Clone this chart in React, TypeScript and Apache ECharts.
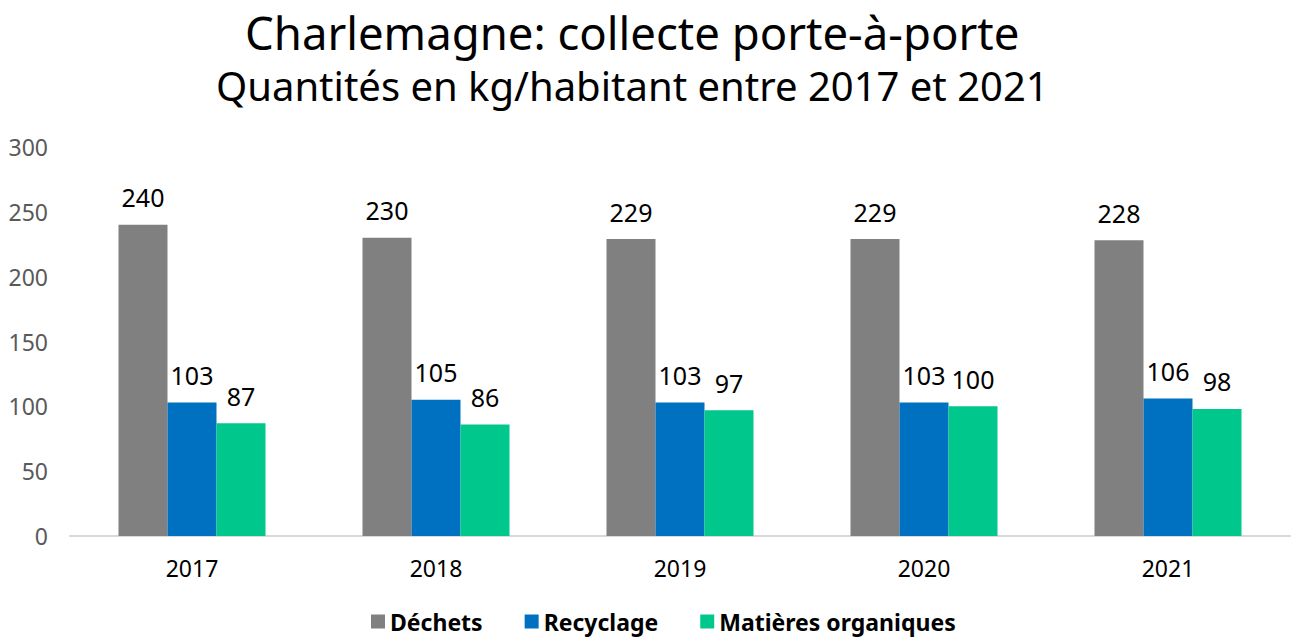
import React, { useEffect, useRef } from "react";
import * as echarts from "echarts";

const years = ["2017", "2018", "2019", "2020", "2021"];
const dechets = [240, 230, 229, 229, 228];
const recyclage = [103, 105, 103, 103, 106];
const organiques = [87, 86, 97, 100, 98];
const seriesNames = ["Déchets", "Recyclage", "Matières organiques"];
const colors = ["#808080", "#0070C0", "#00C78C"];

export default function App() {
  const ref = useRef<HTMLDivElement>(null);
  useEffect(() => {
    if (!ref.current) return;
    const chart = echarts.init(ref.current, null, { renderer: "svg" });
    const font = "'Noto Sans', sans-serif";
    const label = {
      show: true,
      position: "top",
      distance: 15,
      color: "#000",
      fontSize: 25,
      fontFamily: font,
    };
    const datas = [dechets, recyclage, organiques];
    chart.setOption({
      animation: false,
      backgroundColor: "#fff",
      title: [
        {
          text: "Charlemagne: collecte porte-à-porte",
          left: 240,
          top: 4,
          textStyle: { fontSize: 45.5, fontWeight: "normal", color: "#000", fontFamily: font },
        },
        {
          text: "Quantités en kg/habitant entre 2017 et 2021",
          left: 211,
          top: 60,
          textStyle: { fontSize: 40, fontWeight: "normal", color: "#000", fontFamily: font },
        },
      ],
      legend: {
        bottom: -1,
        left: 366,
        itemWidth: 14,
        itemHeight: 14,
        itemGap: 42,
        icon: "rect",
        textStyle: { fontSize: 23, fontWeight: "bold", color: "#000", fontFamily: font },
        data: seriesNames,
      },
      grid: { left: 70, right: 2, top: 147, bottom: 101 },
      xAxis: {
        type: "category",
        data: years,
        axisLine: { lineStyle: { color: "#d9d9d9", width: 2 } },
        axisTick: { show: false },
        axisLabel: { color: "#000", fontSize: 23, margin: 20, fontFamily: font },
      },
      yAxis: {
        type: "value",
        min: 0,
        max: 300,
        interval: 50,
        splitLine: { show: false },
        axisLine: { show: false },
        axisTick: { show: false },
        axisLabel: { color: "#595959", fontSize: 23, margin: 22, fontFamily: font },
      },
      series: datas.map((d, i) => ({
        name: seriesNames[i],
        type: "bar",
        data: d,
        barWidth: 49,
        barGap: "0%",
        itemStyle: { color: colors[i] },
        label,
      })),
    });
    return () => chart.dispose();
  }, []);
  return (
    <div
      ref={ref}
      style={{ position: "absolute", left: 0, top: 0, width: 1292, height: 637 }}
    />
  );
}
